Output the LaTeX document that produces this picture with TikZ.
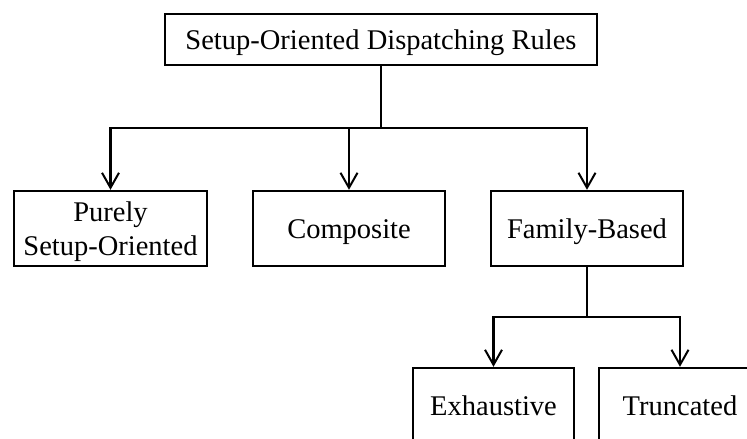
\documentclass[tikz,border=0pt]{standalone}
\usepackage{fontspec}
\setmainfont{Liberation Serif}
\usetikzlibrary{arrows.meta}
\tikzset{
  box/.style={draw, line width=2.4pt, minimum height=75pt, inner sep=0pt, align=center,
    font=\fontsize{28.5}{34}\selectfont, text height=19pt, text depth=0pt},
  twoline/.style={text height=53pt},
  link/.style={line width=2.4pt},
  arr/.style={link, -{Straight Barb[length=15pt,width=17pt,line width=2pt]}}
}
\begin{document}
\begin{tikzpicture}[x=1pt,y=-1pt]
\clip (0,0) rectangle (747,439);
\fill[white] (0,0) rectangle (747,439);
\node[box, minimum width=432pt, minimum height=51pt] (top) at (381,39.5) {Setup-Oriented Dispatching Rules};
\node[box, twoline, minimum width=193pt] (pure) at (110.5,228.5) {Purely\\Setup-Oriented};
\node[box, minimum width=192pt] (comp) at (349,228.5) {Composite};
\node[box, minimum width=192pt] (fam) at (587,228.5) {Family-Based};
\node[box, minimum width=161pt] (exh) at (493.5,405.5) {Exhaustive};
\node[box, minimum width=162pt] (trunc) at (680,405.5) {Truncated};
\coordinate (j1) at (381,128);
\coordinate (j2) at (587,317);
\draw[link] (top) -- (j1);
\draw[arr] (j1) -| (pure);
\draw[arr] (j1) -| (comp);
\draw[arr] (j1) -| (fam);
\draw[link] (fam) -- (j2);
\draw[arr] (j2) -| (exh);
\draw[arr] (j2) -| (trunc);
\end{tikzpicture}
\end{document}
